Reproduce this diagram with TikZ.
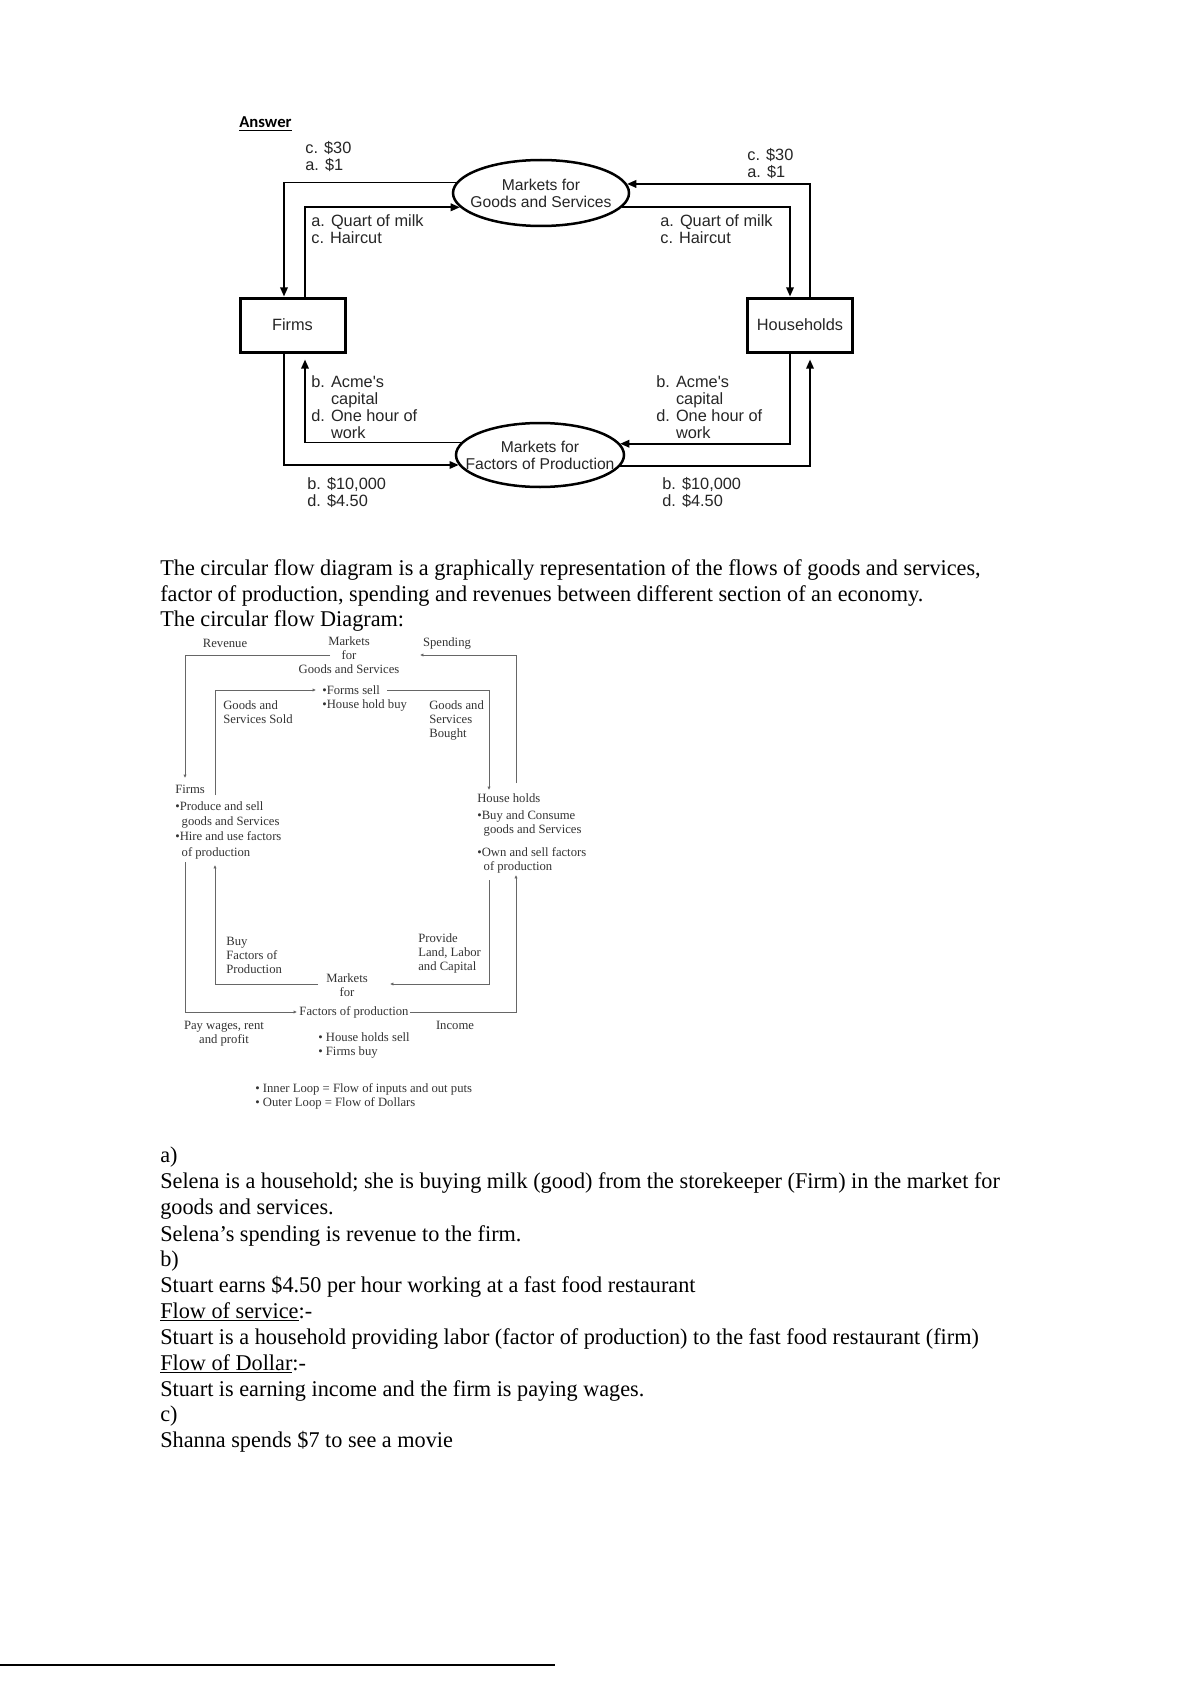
\documentclass[tikz,border=0pt]{standalone}
\usepackage{fontspec}
\setmainfont{Liberation Serif}
\newfontfamily\topfont{Liberation Sans}
\newfontfamily\ansfont{Carlito}
\newfontfamily\bodyfont[FakeStretch=0.988]{Liberation Serif}
\usetikzlibrary{arrows.meta,shapes.geometric,calc}
\begin{document}
\begin{tikzpicture}[x=0.6pt,y=-0.6pt,
  topt/.style={font=\topfont\fontsize{9.8}{10.2}\selectfont, text=black!85, inner sep=0, align=left, anchor=north west},
  fbox/.style={draw, line width=1.8pt, minimum width=63pt, minimum height=32.4pt, inner sep=0, font=\topfont\fontsize{9.8}{10.2}\selectfont, text=black!85},
  mkt/.style={ellipse, draw, line width=1.5pt, inner xsep=-12pt, inner ysep=0pt, align=center, font=\topfont\fontsize{9.4}{10.2}\selectfont, text=black!85},
  flow/.style={line width=1.1pt},
  tip/.style={-{Triangle[length=5.5pt,width=4.5pt]}},
  sc/.style={font=\fontsize{7.6}{8.4}\selectfont, text=black!80, inner sep=0, align=left, anchor=north west},
  sline/.style={draw=black!60, line width=0.6pt},
  stip/.style={-{Latex[length=2pt,width=2pt]}},
  body/.style={font=\bodyfont\fontsize{13.5}{15.6}\selectfont, inner sep=0, anchor=base west, text=black}
]
\useasboundingbox[fill=white] (0,0) rectangle (1191,1685);

% ---------------- top diagram ----------------
\node[anchor=base west, inner sep=0, font=\ansfont\bfseries\fontsize{10}{12}\selectfont] (ans) at (239,128) {\underline{Answer}};

\node[fbox] (firms) at (292.5,325) {Firms};
\node[fbox] (hh) at (800,325) {Households};
\node[mkt, minimum width=105.6pt, minimum height=39.6pt] (mg) at (541,193) {Markets for\\Goods and Services};
\node[mkt, minimum width=100.8pt, minimum height=38.4pt] (mf) at (540,455) {Markets for\\Factors of Production};

\coordinate (xa) at (284,0);
\coordinate (xb) at (305,0);
\coordinate (xc) at (790,0);
\coordinate (xd) at (810,0);

\draw[flow,tip] (mg.173.9) -| (firms.north -| xa);
\draw[flow,tip] (firms.north -| xb) |- (mg.190);
\draw[flow,tip] (hh.north -| xd) |- (mg.6.1);
\draw[flow,tip] (mg.350) -| (hh.north -| xc);
\draw[flow,tip] (firms.south -| xa) |- (mf.187.1);
\draw[flow,tip] (mf.171.2) -| ($(firms.south -| xb)+(0,6)$);
\draw[flow,tip] (hh.south -| xc) |- (mf.8.8);
\draw[flow,tip] (mf.352.9) -| ($(hh.south -| xd)+(0,6)$);

\node[topt] (l1) at (305,141) {c. \$30\\a. \$1};
\node[topt] (l2) at (311,214) {a. Quart of milk\\c. Haircut};
\node[topt] (r1) at (747,148) {c. \$30\\a. \$1};
\node[topt] (r2) at (660,214) {a. Quart of milk\\c. Haircut};
\node[topt] (l3) at (311,375) {b. Acme's\\\phantom{b. }capital\\d. One hour of\\\phantom{d. }work};
\node[topt] (r3) at (656,375) {b. Acme's\\\phantom{b. }capital\\d. One hour of\\\phantom{d. }work};
\node[topt] (l4) at (307,477) {b. \$10,000\\d. \$4.50};
\node[topt] (r4) at (662,477) {b. \$10,000\\d. \$4.50};

% ---------------- body text 1 ----------------
\node[body] (t1) at (160,575) {The circular flow diagram is a graphically representation of the flows of goods and services,};
\node[body] (t2) at (160,601) {factor of production, spending and revenues between different section of an economy.};
\node[body] (t3) at (160,626) {The circular flow Diagram:};

% ---------------- second diagram ----------------
\node[sc, anchor=center] (sRev) at (225,643) {Revenue};
\node[sc, anchor=center, align=center] (sMG) at (349,655) {Markets\\for\\Goods and Services};
\node[sc, anchor=center] (sSp) at (447,643) {Spending};
\node[sc] (sSell) at (322,685) {\textbullet Forms sell\\\textbullet House hold buy};
\node[sc] (sGSS) at (223,700) {Goods and\\Services Sold};
\node[sc] (sGSB) at (429,700) {Goods and\\Services\\Bought};
\node[sc] (sFirms) at (175,785) {Firms};
\node[sc, font=\fontsize{7.6}{9.2}\selectfont] (sFB) at (175,801) {\textbullet Produce and sell\\\hspace*{0.5em}goods and Services\\\textbullet Hire and use factors\\\hspace*{0.5em}of production};
\node[sc] (sHH) at (477,793) {House holds};
\node[sc] (sHB1) at (477,810) {\textbullet Buy and Consume\\\hspace*{0.5em}goods and Services};
\node[sc] (sHB2) at (477,847) {\textbullet Own and sell factors\\\hspace*{0.5em}of production};
\node[sc] (sBuy) at (226,937) {Buy\\Factors of\\Production};
\node[sc] (sProv) at (418,933) {Provide\\Land, Labor\\and Capital};
\node[sc, anchor=center, align=center] (sMF1) at (347,985) {Markets\\for};
\node[sc, anchor=center] (sMF2) at (354,1012) {Factors of production};
\node[sc, anchor=center, align=center] (sPay) at (224,1034) {Pay wages, rent\\and profit};
\node[sc, anchor=center] (sInc) at (455,1025) {Income};
\node[sc] (sHsell) at (318,1032) {\textbullet\ House holds sell\\\textbullet\ Firms buy};
\node[sc] (sLeg) at (255,1083) {\textbullet\ Inner Loop = Flow of inputs and out puts\\\textbullet\ Outer Loop = Flow of Dollars};

\coordinate (gL) at (330,655);
\coordinate (gR) at (420,655);
\coordinate (sellL) at (316,690);
\coordinate (sellR) at (387,690);
\coordinate (fT1) at (185,778);
\coordinate (fT2) at (215,795);
\coordinate (hT1) at (489,790);
\coordinate (hT2) at (516,783);
\coordinate (fB1) at (185,862);
\coordinate (fB2) at (215,865);
\coordinate (hB1) at (489,880);
\coordinate (hB2) at (516,875);
\coordinate (mfL) at (297,1012);
\coordinate (mfR) at (410,1012);
\coordinate (mfIL) at (318,984);
\coordinate (mfIR) at (390,984);

\draw[sline,stip] (gL) -| (fT1);
\draw[sline,stip] (hT2) |- (gR);
\draw[sline,stip] (fT2) |- (sellL);
\draw[sline,stip] (sellR) -| (hT1);
\draw[sline,stip] (fB1) |- (mfL);
\draw[sline,stip] (mfIL) -| (fB2);
\draw[sline,stip] (hB1) |- (mfIR);
\draw[sline,stip] (mfR) -| (hB2);

% ---------------- body text 2 ----------------
\node[body] (a1) at (160,1162) {a)};
\node[body] (a2) at (160,1188) {Selena is a household; she is buying milk (good) from the storekeeper (Firm) in the market for};
\node[body] (a3) at (160,1214) {goods and services.};
\node[body] (a4) at (160,1241) {Selena’s spending is revenue to the firm.};
\node[body] (b1) at (160,1266) {b)};
\node[body] (b2) at (160,1292) {Stuart earns \$4.50 per hour working at a fast food restaurant};
\node[body] (b3) at (160,1318) {\underline{Flow of service}:-};
\node[body] (b4) at (160,1344) {Stuart is a household providing labor (factor of production) to the fast food restaurant (firm)};
\node[body] (b5) at (160,1370) {\underline{Flow of Dollar}:-};
\node[body] (b6) at (160,1396) {Stuart is earning income and the firm is paying wages.};
\node[body] (c1) at (160,1421) {c)};
\node[body] (c2) at (160,1447) {Shanna spends \$7 to see a movie};

\coordinate (ruleA) at (0,1665);
\coordinate (ruleB) at (555,1665);
\draw[line width=1.3pt] (ruleA) -- (ruleB);
\end{tikzpicture}
\end{document}
